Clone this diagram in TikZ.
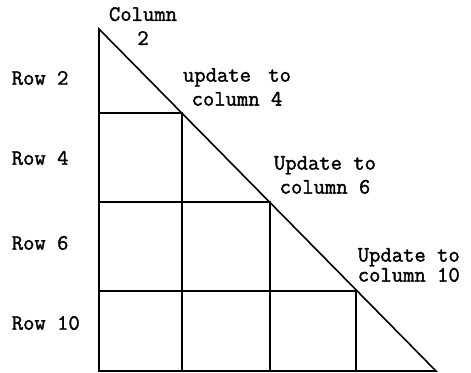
\documentclass[tikz,border=0pt]{standalone}
\usepackage{fontspec}
\newfontfamily\lblfont{Latin Modern Mono}[FakeBold=1.6]
\begin{document}
\begin{tikzpicture}[x=1pt, y=-1pt, line width=1.6pt,
  lbl/.style={font=\lblfont\fontsize{22}{24}\selectfont, inner sep=0pt, align=center},
  rowlbl/.style={lbl, anchor=west}]

  \useasboundingbox (0,0) rectangle (471,372);

  % corners of the triangle
  \coordinate (apex) at (99,29);
  \coordinate (BL) at (99,371);
  \coordinate (BR) at (436,371);

  % grid points on the hypotenuse
  \coordinate (H4) at (182,113);
  \coordinate (H6) at (270,202);
  \coordinate (H10) at (356,291);

  \draw (apex) -- (BL) -- (BR) -- cycle;

  \draw (BL |- H4) -- (H4) -- (H4 |- BL);
  \draw (BL |- H6) -- (H6) -- (H6 |- BL);
  \draw (BL |- H10) -- (H10) -- (H10 |- BL);

  \node[lbl] (col2) at (143,26) {Column\\2};
  \node[lbl] (upd4) at (237,87) {update\hspace{6pt} to\\column 4};
  \node[lbl] (upd6) at (325,175) {Update to\\column 6};
  \node[lbl, anchor=west, align=left] (upd10) at (357,265) {Update to\\[-4pt]column 10};

  \node[rowlbl] (row2) at (11,78) {Row 2};
  \node[rowlbl] (row4) at (11,158) {Row 4};
  \node[rowlbl] (row6) at (11,243) {Row 6};
  \node[rowlbl] (row10) at (11,323) {Row 10};

\end{tikzpicture}
\end{document}
